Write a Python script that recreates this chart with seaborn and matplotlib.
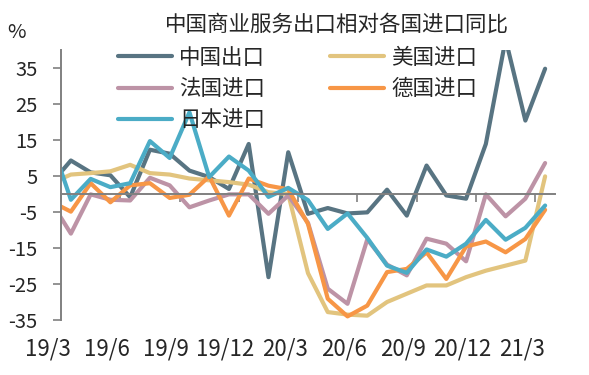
import numpy as np
import pandas as pd
import matplotlib.pyplot as plt
import seaborn as sns

# months (first one sits left of the axis and is clipped)
months = ['19/2', '19/3', '19/4', '19/5', '19/6', '19/7', '19/8', '19/9', '19/10',
          '19/11', '19/12', '20/1', '20/2', '20/3', '20/4', '20/5', '20/6', '20/7',
          '20/8', '20/9', '20/10', '20/11', '20/12', '21/1', '21/2', '21/3']
tick_labels = ['19/3', '19/6', '19/9', '19/12', '20/3', '20/6', '20/9', '20/12', '21/3']

china = [2.9, 9.3, 6.0, 5.2, -0.9, 12.3, 11.2, 6.5, 4.7, 1.4, 13.9, -23.1, 11.6,
         -5.5, -3.9, -5.4, -5.1, 1.2, -6.0, 7.9, -0.4, -1.3, 13.9, 43.0, 20.4, 34.8]
usa = [3.0, 5.4, 5.8, 6.3, 8.1, 5.8, 5.4, 4.3, 3.8, 3.3, 2.6, 0.5, 0.0,
       -22.0, -32.8, -33.5, -33.8, -30.0, -27.7, -25.4, -25.4, -23.1, -21.3, -19.9, -18.5, 4.9]
france = [-2.2, -11.0, -0.1, -1.6, -1.8, 4.5, 2.4, -3.7, -1.8, -0.1, -0.1, -5.5, -0.4,
          -8.0, -26.3, -30.5, -12.6, -19.6, -22.6, -12.4, -13.8, -18.7, -0.1, -6.2, -1.3, 8.6]
germany = [-2.1, -4.9, 3.0, -2.3, 2.4, 3.0, -1.1, -0.2, 4.9, -6.0, 4.3, 2.3, 1.3,
           -8.3, -29.1, -34.0, -31.0, -21.7, -20.8, -16.2, -23.6, -14.6, -13.2, -16.2, -12.5, -4.4]
japan = [14.6, -1.6, 4.2, 1.9, 3.0, 14.7, 10.0, 22.7, 4.7, 10.4, 6.5, -0.8, 1.7,
         -1.7, -9.7, -5.4, -12.2, -19.9, -21.9, -15.4, -17.4, -13.8, -7.2, -12.7, -9.4, -3.2]

names = ['中国出口', '美国进口', '法国进口', '德国进口', '日本进口']
colors = ['#587482', '#E2C47E', '#BD93A6', '#F79646', '#4BACC6']

pos = np.arange(len(months)) - 0.5
ticks = [months.index(t) - 1 for t in tick_labels]

df = pd.DataFrame({'pos': np.tile(pos, 5),
                   'value': china + usa + france + germany + japan,
                   'series': np.repeat(names, len(months))})

sns.set_theme(style='white')
plt.rcParams['font.family'] = ['Noto Sans CJK SC', 'DejaVu Sans']

fig = plt.figure(figsize=(5.89, 3.75), dpi=100)
ax = fig.add_axes([61 / 589, 1 - 320 / 375, (555 - 61) / 589, 270 / 375])

sns.lineplot(data=df, x='pos', y='value', hue='series', hue_order=names,
             palette=colors, linewidth=3, sort=False, legend=False, ax=ax,
             solid_capstyle='round')

ax.set_xlim(0, 25)
ax.set_ylim(-35, 40)
ax.set_xlabel('')
ax.set_ylabel('')

for s in ['top', 'right']:
    ax.spines[s].set_visible(False)
ax.spines['bottom'].set_position(('data', 0))
for s in ['left', 'bottom']:
    ax.spines[s].set_color('#808080')
    ax.spines[s].set_linewidth(1.4)

ax.set_yticks(np.arange(-35, 36, 10))
ax.set_yticklabels([str(v) for v in np.arange(-35, 36, 10)])
ax.tick_params(axis='y', direction='out', length=6, width=1.2, color='#808080',
               labelsize=14.5, pad=11, left=True)
ax.set_xticks(ticks)
ax.set_xticklabels([])
ax.tick_params(axis='x', direction='out', length=6, width=1.2, color='#808080', bottom=True)

for t, lbl in zip(ticks, tick_labels):
    ax.annotate(lbl, xy=(t - 0.68, 0), xycoords=('data', 'axes fraction'),
                xytext=(0, -21), textcoords='offset points',
                ha='center', va='center', fontsize=16)

fig.text(337 / 589, 1 - 25 / 375, '中国商业服务出口相对各国进口同比',
         ha='center', va='center', fontsize=15.5)
fig.text(17 / 589, 1 - 32 / 375, '%', ha='center', va='center', fontsize=14.5)

order = [0, 2, 4, 1, 3]
leg_handles = [plt.Line2D([], [], color=colors[i], linewidth=3) for i in order]
leg_labels = [names[i] for i in order]
fig.legend(leg_handles, leg_labels, ncol=2, frameon=False, loc='upper left',
           bbox_to_anchor=(118 / 589, 1 - 47 / 375), fontsize=15.5,
           handlelength=2.5, handletextpad=0.35, columnspacing=3.0,
           labelspacing=0.42, borderpad=0, borderaxespad=0)

fig.savefig('out.png', dpi=100)
